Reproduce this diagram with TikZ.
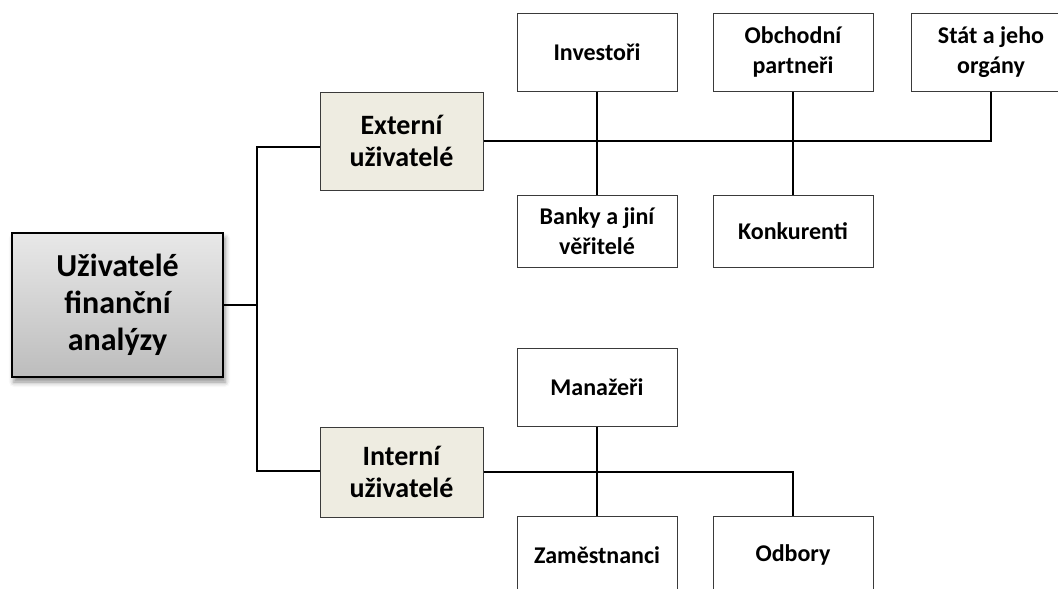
\documentclass[tikz,border=0pt]{standalone}
\usepackage{fontspec}
\setmainfont{Carlito}
\usetikzlibrary{shadows.blur}

\definecolor{tan}{HTML}{EEECE1}
\definecolor{edge}{HTML}{3A3A3A}

\tikzset{
  rootbox/.style={draw=black, line width=1.8pt, top color=black!9, bottom color=black!26,
    minimum width=211pt, minimum height=144pt, align=center, inner sep=0pt,
    font=\fontsize{32}{37}\selectfont\bfseries,
    blur shadow={shadow xshift=2pt, shadow yshift=-5pt, shadow blur radius=5pt, shadow opacity=45}},
  groupbox/.style={draw=edge, line width=1pt, fill=tan,
    minimum width=163pt, align=center, inner sep=0pt,
    font=\fontsize{28}{32}\selectfont\bfseries},
  leafbox/.style={draw=edge, line width=1pt, fill=white,
    minimum width=160pt, minimum height=78pt, align=center, inner sep=0pt,
    font=\fontsize{24}{30}\selectfont\bfseries},
  link/.style={draw=black, line width=1.9pt}
}

\begin{document}
\begin{tikzpicture}[x=1pt, y=-1pt]
  \useasboundingbox (0,0) rectangle (1058,589);

  % root and the two user groups
  \node[rootbox] (root) at (117.5,305) {Uživatelé\\finanční\\analýzy};
  \node[groupbox, minimum height=98pt] (ext) at (401.5,141) {Externí\\uživatelé};
  \node[groupbox, minimum height=90pt] (int) at (401.5,472) {Interní\\uživatelé};

  % external users
  \node[leafbox] (inv)  at (597,52)  {Investoři};
  \node[leafbox] (obch) at (793,52)  {Obchodní\\partneři};
  \node[leafbox] (stat) at (991,52)  {Stát a jeho\\orgány};
  \node[leafbox, minimum height=72pt] (bank) at (597,231)  {Banky a jiní\\věřitelé};
  \node[leafbox, minimum height=72pt] (konk) at (793,231)  {Konkurenti};

  % internal users
  \node[leafbox] (man) at (597,387) {Manažeři};
  \node[leafbox] (zam) at (597,555) {Zaměstnanci};
  \node[leafbox] (odb) at (793,555) {Odbory};

  % trunk from the root
  \coordinate (jt) at (257,147);
  \coordinate (jb) at (257,471);
  \draw[link] (root.east) -- (root.east -| jt);
  \draw[link] (ext.west |- jt) -- (jt) -- (jb) -- (int.west |- jb);

  % external branch
  \draw[link] (ext.east) -- (ext.east -| stat.south) -- (stat.south);
  \draw[link] (inv.south) -- (bank.north);
  \draw[link] (obch.south) -- (konk.north);

  % internal branch
  \draw[link] (int.east) -- (int.east -| odb.north) -- (odb.north);
  \draw[link] (man.south) -- (zam.north);
\end{tikzpicture}
\end{document}
